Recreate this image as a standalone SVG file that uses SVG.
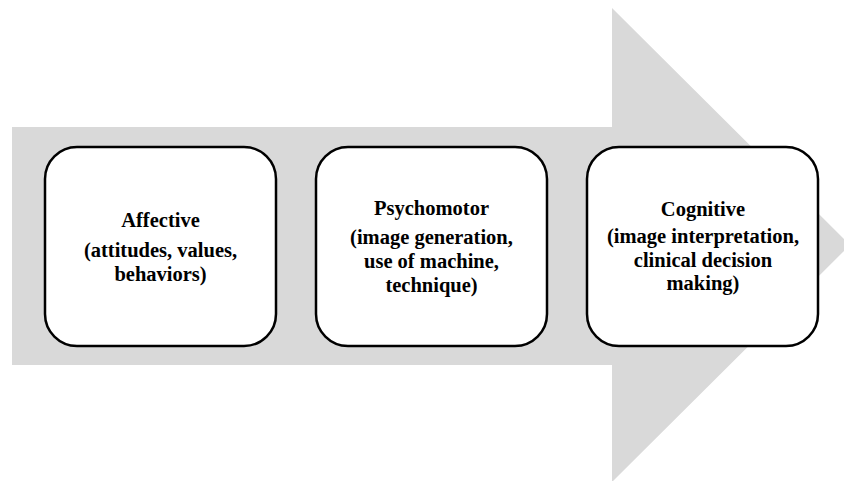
<svg xmlns="http://www.w3.org/2000/svg" width="844" height="481" viewBox="0 0 844 481">
<style>
.box{fill:#fff;stroke:#000;stroke-width:2.5}
.t{font-family:"Liberation Serif","Times New Roman",serif;font-weight:bold;font-size:20.5px;fill:#000;text-anchor:middle}
</style>
<rect width="844" height="481" fill="#fff"/>
<g id="arrow">
<polygon points="12,127 612,127 612,8 850,245 612,482 612,365 12,365" fill="#d9d9d9"/>
</g>
<g id="affective">
<rect class="box" x="45" y="147" width="231" height="199" rx="32"/>
<text class="t" x="160.5" y="227">Affective</text>
<text class="t" x="160.5" y="257">(attitudes, values,</text>
<text class="t" x="160.5" y="281">behaviors)</text>
</g>
<g id="psychomotor">
<rect class="box" x="316" y="147" width="231" height="199" rx="32"/>
<text class="t" x="431.5" y="215">Psychomotor</text>
<text class="t" x="431.5" y="244">(image generation,</text>
<text class="t" x="431.5" y="268">use of machine,</text>
<text class="t" x="431.5" y="292">technique)</text>
</g>
<g id="cognitive">
<rect class="box" x="587" y="147" width="231" height="199" rx="32"/>
<text class="t" x="703" y="216">Cognitive</text>
<text class="t" x="703" y="243">(image interpretation,</text>
<text class="t" x="703" y="267">clinical decision</text>
<text class="t" x="703" y="290">making)</text>
</g>
<g id="connectors"></g>
</svg>
